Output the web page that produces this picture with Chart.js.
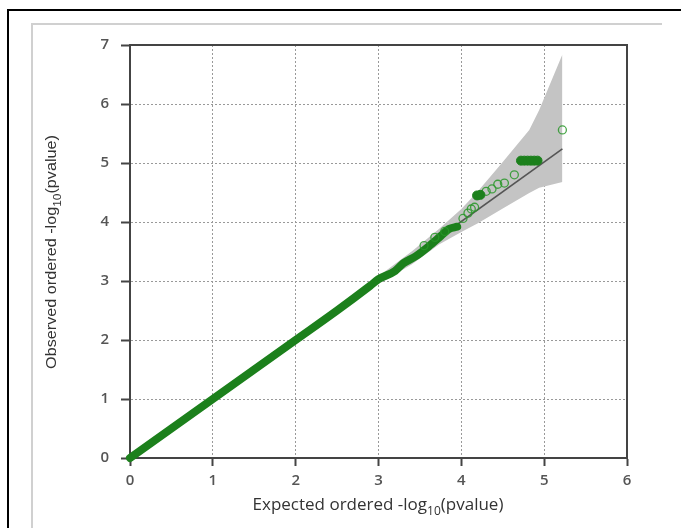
<!DOCTYPE html>
<html>
<head>
<meta charset="utf-8">
<script src="https://cdn.jsdelivr.net/npm/chart.js@4/dist/chart.umd.min.js"></script>
<style>
	html, body { margin: 0; padding: 0; background: #fff; }
	#wrap { width: 681px; height: 528px; }
</style>
</head>
<body>
<div id="wrap"><canvas id="qq-chart"></canvas></div>
<script>
// dense part of the QQ points (drawn as a thick band of markers)
var denseX = [0, 0.5, 1, 1.5, 2, 2.5, 2.9, 3.0, 3.2, 3.3, 3.45, 3.6, 3.75, 3.85, 3.95];
var denseY = [0, 0.5, 1, 1.5, 2, 2.5, 2.92, 3.03, 3.17, 3.3, 3.42, 3.58, 3.76, 3.88, 3.92];

// filled points in the tail
var filledX = [4.19, 4.23, 4.72, 4.76, 4.8, 4.84, 4.88, 4.92];
var filledY = [4.45, 4.46, 5.04, 5.04, 5.04, 5.04, 5.04, 5.04];

// open circles in the tail
var openX = [3.55, 3.68, 3.8, 4.02, 4.08, 4.12, 4.16, 4.3, 4.37, 4.44, 4.52, 4.64, 5.22];
var openY = [3.6, 3.74, 3.84, 4.06, 4.15, 4.22, 4.25, 4.52, 4.56, 4.64, 4.66, 4.8, 5.56];

// confidence band
var bandX = [3.0, 3.4, 3.73, 4.0, 4.2, 4.49, 4.82, 4.94, 5.22];
var bandUpper = [3.08, 3.5, 3.88, 4.22, 4.52, 5.0, 5.56, 5.9, 6.84];
var bandLower = [2.95, 3.28, 3.62, 3.83, 3.98, 4.22, 4.49, 4.58, 4.68];

// expected line
var refX = [3.0, 5.22];
var refY = [3.0, 5.24];

var xTicks = [0, 1, 2, 3, 4, 5, 6];
var yTicks = [0, 1, 2, 3, 4, 5, 6, 7];

function pts(xs, ys) {
	return xs.map(function (x, i) { return { x: x, y: ys[i] }; });
}

var green = "rgb(28,128,28)";
var tickFont = { family: "'Open Sans', 'Liberation Sans', sans-serif", size: 15, weight: "600" };

var framePlugin = {
	id: "frame",
	beforeDraw: function (chart) {
		var ctx = chart.ctx;
		ctx.save();
		ctx.fillStyle = "#fff";
		ctx.fillRect(0, 0, chart.width, chart.height);
		ctx.strokeStyle = "#000";
		ctx.lineWidth = 2;
		ctx.beginPath();
		ctx.moveTo(681, 10);
		ctx.lineTo(8, 10);
		ctx.lineTo(8, 528);
		ctx.stroke();
		ctx.strokeStyle = "#d0d0d0";
		ctx.beginPath();
		ctx.moveTo(662, 24);
		ctx.lineTo(32, 24);
		ctx.lineTo(32, 528);
		ctx.stroke();
		ctx.restore();
	},
	afterDraw: function (chart) {
		var ctx = chart.ctx;
		var a = chart.chartArea;
		ctx.save();
		// top and right sides of the box
		ctx.strokeStyle = "#444";
		ctx.lineWidth = 2;
		ctx.beginPath();
		ctx.moveTo(a.left, a.top);
		ctx.lineTo(a.right, a.top);
		ctx.lineTo(a.right, a.bottom);
		ctx.stroke();

		// axis titles with subscript
		ctx.fillStyle = "#333";
		ctx.textBaseline = "alphabetic";
		function titleWidth(pre, sub, post, big, small) {
			ctx.font = big;
			var w = ctx.measureText(pre).width + ctx.measureText(post).width;
			ctx.font = small;
			return w + ctx.measureText(sub).width;
		}
		function drawTitle(pre, sub, post, big, small, x0, y0) {
			ctx.font = big;
			ctx.fillText(pre, x0, y0);
			var x = x0 + ctx.measureText(pre).width;
			ctx.font = small;
			ctx.fillText(sub, x, y0 + 5);
			x += ctx.measureText(sub).width;
			ctx.font = big;
			ctx.fillText(post, x, y0);
		}
		var big = "17px 'Open Sans', sans-serif";
		var small = "12px 'Open Sans', sans-serif";
		var w = titleWidth("Expected ordered -log", "10", "(pvalue)", big, small);
		drawTitle("Expected ordered -log", "10", "(pvalue)", big, small, 378 - w / 2, 510);

		var bigY = "15px 'Liberation Sans', sans-serif";
		var smallY = "11px 'Liberation Sans', sans-serif";
		ctx.translate(56, 252);
		ctx.rotate(-Math.PI / 2);
		ctx.scale(1.08, 1);
		var wy = titleWidth("Observed ordered -log", "10", "(pvalue)", bigY, smallY);
		drawTitle("Observed ordered -log", "10", "(pvalue)", bigY, smallY, -wy / 2, 0);
		ctx.restore();
	}
};

var chart = new Chart(document.getElementById("qq-chart"), {
	type: "line",
	data: {
		datasets: [
			{
				label: "filled",
				data: pts(filledX, filledY),
				showLine: false,
				pointRadius: 4.5,
				pointBackgroundColor: green,
				pointBorderColor: green,
				pointBorderWidth: 1,
				order: 1
			},
			{
				label: "open",
				data: pts(openX, openY),
				showLine: false,
				pointRadius: 4,
				pointBackgroundColor: "rgba(0,0,0,0)",
				pointBorderColor: "rgba(40,150,40,0.85)",
				pointBorderWidth: 1.3,
				order: 1
			},
			{
				label: "dense",
				data: pts(denseX, denseY),
				borderColor: green,
				borderWidth: 8,
				borderCapStyle: "round",
				borderJoinStyle: "round",
				cubicInterpolationMode: "monotone",
				pointRadius: 0,
				clip: false,
				order: 2
			},
			{
				label: "expected",
				data: pts(refX, refY),
				borderColor: "#555",
				borderWidth: 1.6,
				pointRadius: 0,
				order: 3
			},
			{
				label: "upper",
				data: pts(bandX, bandUpper),
				borderWidth: 0,
				borderColor: "rgba(0,0,0,0)",
				backgroundColor: "#c4c4c4",
				pointRadius: 0,
				fill: "+1",
				order: 4
			},
			{
				label: "lower",
				data: pts(bandX, bandLower),
				borderWidth: 0,
				borderColor: "rgba(0,0,0,0)",
				pointRadius: 0,
				fill: false,
				order: 4
			}
		]
	},
	options: {
		responsive: true,
		maintainAspectRatio: false,
		animation: false,
		layout: { padding: { top: 45, right: 54, left: 0, bottom: 0 } },
		plugins: {
			legend: { display: false },
			tooltip: { enabled: false }
		},
		scales: {
			x: {
				type: "linear",
				min: 0,
				max: 6,
				afterFit: function (s) { s.height = 70; },
				afterBuildTicks: function (s) { s.ticks = xTicks.map(function (v) { return { value: v }; }); },
				ticks: { color: "#555", font: tickFont, padding: 6 },
				grid: { color: "#999", lineWidth: 1, tickColor: "#444", tickWidth: 2, tickLength: 8 },
				border: { display: true, color: "#444", width: 2, dash: [2, 2] }
			},
			y: {
				type: "linear",
				min: 0,
				max: 7,
				afterFit: function (s) { s.width = 130; },
				afterBuildTicks: function (s) { s.ticks = yTicks.map(function (v) { return { value: v }; }); },
				ticks: { color: "#555", font: tickFont, padding: 12 },
				grid: { color: "#999", lineWidth: 1, tickColor: "#444", tickWidth: 2, tickLength: 9 },
				border: { display: true, color: "#444", width: 2, dash: [2, 2] }
			}
		}
	},
	plugins: [framePlugin]
});
</script>
</body>
</html>
